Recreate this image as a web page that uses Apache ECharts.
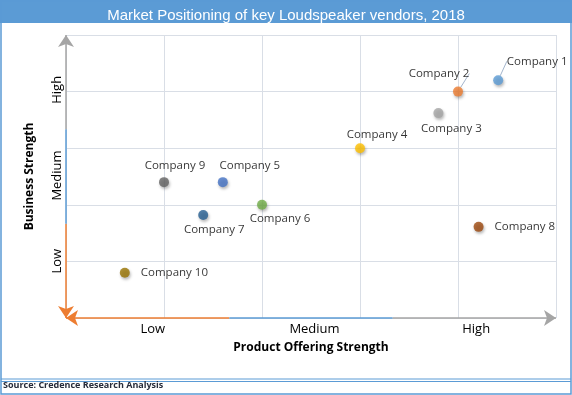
<!DOCTYPE html>
<html>
<head>
<meta charset="utf-8">
<script src="https://cdn.jsdelivr.net/npm/echarts@6/dist/echarts.min.js"></script>
<style>html,body{margin:0;padding:0;background:#fff}#c{width:572px;height:395px}</style>
</head>
<body>
<div id="c"></div>
<script>
var companies = ['Company 1','Company 2','Company 3','Company 4','Company 5','Company 6','Company 7','Company 8','Company 9','Company 10'];
var productStrength = [4.41, 4.00, 3.80, 3.00, 1.60, 2.00, 1.40, 4.21, 1.00, 0.60];
var businessStrength = [4.20, 4.00, 3.62, 3.00, 2.40, 2.00, 1.82, 1.61, 2.40, 0.80];
var xTickLabels = ['Low','Medium','High'];
var yTickLabels = ['Low','Medium','High'];
var axisMax = 5;

var colors = ['#5b9bd5','#ed7d31','#a5a5a5','#ffc000','#4472c4','#70ad47','#255e91','#9e480e','#636363','#997300'];
var labelPos = ['top','top','bottom','top','top','bottom','bottom','right','top','right'];
var labelShift = [[39,-3],[-19,-2],[13,0],[17,3],[27,0],[18,-2],[11,-1],[6,0],[11,0],[6,0]];
var leader = [true,true,false,false,false,false,false,false,false,false];

var FONT = 'Open Sans';
var data = companies.map(function(n,i){
  return {
    name:n, value:[productStrength[i], businessStrength[i]],
    itemStyle:{color:colors[i]},
    label:{position:labelPos[i]},
    labelLine:{show:leader[i], lineStyle:{color:'#a3b5cc', width:1}}
  };
});

var t1 = axisMax/3, t2 = 2*axisMax/3;
var ORANGE = '#ed7d31', BLUE = '#5b9bd5', GRAY = '#a5a5a5';
function seg(a,b,c,s1,s2){
  return [{coord:a, symbol:s1, lineStyle:{color:c, width:1.5, type:'solid'}},{coord:b, symbol:s2}];
}

var chart = echarts.init(document.getElementById('c'));
chart.setOption({
  animation:false,
  backgroundColor:'#fff',
  title:{
    text:'Market Positioning of key Loudspeaker vendors, 2018',
    left:'center', top:3,
    textStyle:{color:'#fff', fontFamily:'Liberation Sans', fontSize:15, fontWeight:'normal'}
  },
  graphic:[
    {type:'rect', z:-1, shape:{x:0,y:0,width:572,height:23}, style:{fill:'#5b9bd5'}},
    {type:'rect', shape:{x:1,y:1,width:570,height:393}, style:{fill:'none', stroke:'#5b9bd5', lineWidth:1.5}},
    {type:'line', shape:{x1:1,y1:379,x2:571,y2:379}, style:{stroke:'#5b9bd5', lineWidth:1}},
    {type:'line', shape:{x1:1,y1:381.5,x2:571,y2:381.5}, style:{stroke:'#5b9bd5', lineWidth:1}},
    {type:'text', left:3, top:381, style:{text:'Source: Credence Research Analysis', fill:'#262b3a', font:'bold 9px "Open Sans"'}}
  ],
  grid:[
    {left:66, right:16, top:35, bottom:77},
    {left:72, right:15, top:47, bottom:91}
  ],
  xAxis:[
    {gridIndex:0, type:'value', min:0, max:axisMax, interval:1,
     axisLine:{show:false}, axisTick:{show:false}, axisLabel:{show:false},
     splitLine:{show:true, lineStyle:{color:'#d9dee6', width:1}},
     name:'Product Offering Strength', nameLocation:'middle', nameGap:24,
     nameTextStyle:{fontFamily:FONT, fontWeight:'bold', fontSize:12, color:'#000'}},
    {gridIndex:1, type:'category', data:xTickLabels, boundaryGap:true,
     axisLine:{show:false}, axisTick:{show:false}, splitLine:{show:false},
     axisLabel:{margin:19, fontFamily:FONT, fontSize:13, color:'#000'}}
  ],
  yAxis:[
    {gridIndex:0, type:'value', min:0, max:axisMax, interval:1,
     axisLine:{show:false}, axisTick:{show:false}, axisLabel:{show:false},
     splitLine:{show:true, lineStyle:{color:'#d9dee6', width:1}},
     name:'Business Strength', nameLocation:'middle', nameGap:30,
     nameTextStyle:{fontFamily:FONT, fontWeight:'bold', fontSize:12, color:'#000'}},
    {gridIndex:1, type:'category', data:yTickLabels, boundaryGap:true,
     axisLine:{show:false}, axisTick:{show:false}, splitLine:{show:false},
     axisLabel:{margin:8, rotate:90, fontFamily:FONT, fontSize:13, color:'#000'}}
  ],
  series:[
    {
      type:'line', xAxisIndex:0, yAxisIndex:0, data:[], clip:false, silent:true, z:10,
      markLine:{
        silent:true, symbolSize:12, label:{show:false}, animation:false, z:10,
        data:[
          seg([0,0],[t1,0],ORANGE,'arrow','none'),
          seg([t1,0],[t2,0],BLUE,'none','none'),
          seg([t2,0],[axisMax,0],GRAY,'none','arrow'),
          seg([0,t1],[0,0],ORANGE,'none','arrow'),
          seg([0,t1],[0,t2],BLUE,'none','none'),
          seg([0,t2],[0,axisMax],GRAY,'none','arrow')
        ]
      }
    },
    {
      type:'scatter', xAxisIndex:0, yAxisIndex:0, symbolSize:10, data:data, z:5,
      itemStyle:{shadowBlur:3, shadowColor:'rgba(0,0,0,0.35)', shadowOffsetX:1, shadowOffsetY:2},
      label:{show:true, formatter:'{b}', fontFamily:FONT, fontSize:11.5, color:'#000', distance:5},
      labelLayout:function(p){ var s = labelShift[p.dataIndex]; return {dx:s[0], dy:s[1]}; }
    }
  ]
});
</script>
</body>
</html>
